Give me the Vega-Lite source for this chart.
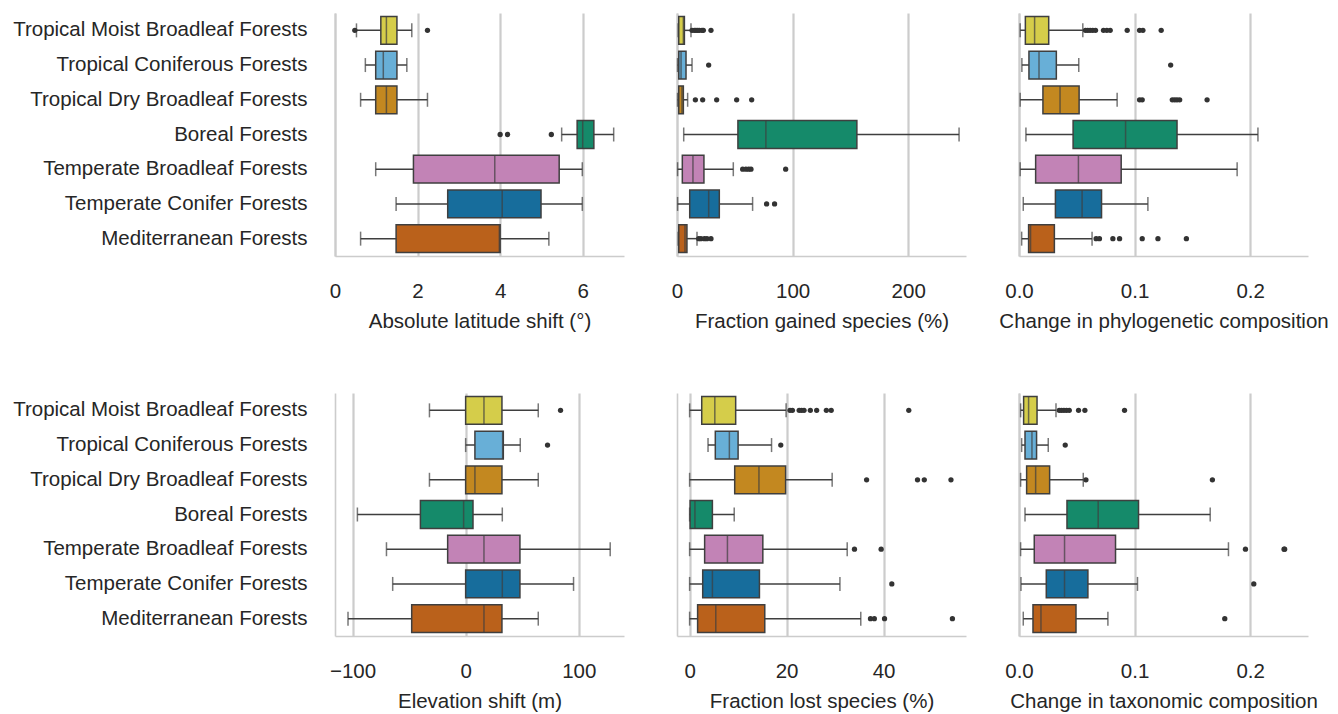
{
"$schema": "https://vega.github.io/schema/vega-lite/v6.json",
"padding": {"left": 12, "top": 13, "right": 5, "bottom": 5},
"background": "white",
"columns": 3,
"bounds": "flush",
"spacing": {"row": 137, "column": 53},
"resolve": {"scale": {"x": "independent", "y": "independent"}},
"config": {
  "font": "Liberation Sans",
  "view": {"stroke": null},
  "axis": {"labelFont": "Liberation Sans", "labelFontSize": 20.5, "labelColor": "#262626", "labelLimit": 500, "titleFont": "Liberation Sans", "titleFontSize": 20.5, "titleFontWeight": "normal", "titleColor": "#262626", "titleLimit": 600, "domainColor": "#cccccc", "domainWidth": 1.6, "ticks": false, "tickSize": 0, "gridColor": "#cccccc", "gridWidth": 2.2},
  "axisX": {"grid": true, "labelPadding": 25, "titlePadding": 10, "labelFlush": false},
  "axisY": {"grid": false, "labelPadding": 28}
},
"datasets": {
  "stats": [
    {"m": "lat", "forest": "Tropical Moist Broadleaf Forests", "wlo": 0.52, "q1": 1.11, "med": 1.245, "q3": 1.5, "whi": 1.86},
    {"m": "lat", "forest": "Tropical Coniferous Forests", "wlo": 0.735, "q1": 0.986, "med": 1.17, "q3": 1.5, "whi": 1.74},
    {"m": "lat", "forest": "Tropical Dry Broadleaf Forests", "wlo": 0.62, "q1": 0.986, "med": 1.245, "q3": 1.5, "whi": 2.24},
    {"m": "lat", "forest": "Boreal Forests", "wlo": 5.49, "q1": 5.865, "med": 6.0, "q3": 6.27, "whi": 6.75},
    {"m": "lat", "forest": "Temperate Broadleaf Forests", "wlo": 0.986, "q1": 1.9, "med": 3.87, "q3": 5.43, "whi": 5.99},
    {"m": "lat", "forest": "Temperate Conifer Forests", "wlo": 1.48, "q1": 2.73, "med": 4.05, "q3": 4.99, "whi": 5.99},
    {"m": "lat", "forest": "Mediterranean Forests", "wlo": 0.62, "q1": 1.48, "med": 3.98, "q3": 4.0, "whi": 5.18},

    {"m": "gain", "forest": "Tropical Moist Broadleaf Forests", "wlo": 1.0, "q1": 1.5, "med": 5.5, "q3": 6.4, "whi": 12.1},
    {"m": "gain", "forest": "Tropical Coniferous Forests", "wlo": 0.5, "q1": 1.5, "med": 3.5, "q3": 7.8, "whi": 13},
    {"m": "gain", "forest": "Tropical Dry Broadleaf Forests", "wlo": 0.5, "q1": 1.5, "med": 4.3, "q3": 5.5, "whi": 9.2},
    {"m": "gain", "forest": "Boreal Forests", "wlo": 5.8, "q1": 52.7, "med": 76.9, "q3": 155.6, "whi": 244},
    {"m": "gain", "forest": "Temperate Broadleaf Forests", "wlo": 0.5, "q1": 4.6, "med": 13.8, "q3": 23.3, "whi": 48.7},
    {"m": "gain", "forest": "Temperate Conifer Forests", "wlo": 0.5, "q1": 11, "med": 27.4, "q3": 36.6, "whi": 65.4},
    {"m": "gain", "forest": "Mediterranean Forests", "wlo": 1.0, "q1": 1.5, "med": 6.9, "q3": 8.6, "whi": 17.3},

    {"m": "phylo", "forest": "Tropical Moist Broadleaf Forests", "wlo": 0.001, "q1": 0.0055, "med": 0.0135, "q3": 0.0257, "whi": 0.0552},
    {"m": "phylo", "forest": "Tropical Coniferous Forests", "wlo": 0.0025, "q1": 0.0086, "med": 0.0173, "q3": 0.0323, "whi": 0.0517},
    {"m": "phylo", "forest": "Tropical Dry Broadleaf Forests", "wlo": 0.001, "q1": 0.0207, "med": 0.0355, "q3": 0.052, "whi": 0.0849},
    {"m": "phylo", "forest": "Boreal Forests", "wlo": 0.006, "q1": 0.0468, "med": 0.0922, "q3": 0.1367, "whi": 0.2067},
    {"m": "phylo", "forest": "Temperate Broadleaf Forests", "wlo": 0.001, "q1": 0.0144, "med": 0.0514, "q3": 0.0884, "whi": 0.1887},
    {"m": "phylo", "forest": "Temperate Conifer Forests", "wlo": 0.0037, "q1": 0.0315, "med": 0.0546, "q3": 0.0714, "whi": 0.1115},
    {"m": "phylo", "forest": "Mediterranean Forests", "wlo": 0.0023, "q1": 0.0083, "med": 0.01, "q3": 0.0306, "whi": 0.0632},

    {"m": "elev", "forest": "Tropical Moist Broadleaf Forests", "wlo": -32, "q1": 0, "med": 16.2, "q3": 32.1, "whi": 64.2},
    {"m": "elev", "forest": "Tropical Coniferous Forests", "wlo": 0, "q1": 8.2, "med": 32.7, "q3": 33.3, "whi": 48.3},
    {"m": "elev", "forest": "Tropical Dry Broadleaf Forests", "wlo": -32, "q1": 0, "med": 8.2, "q3": 32.1, "whi": 64.2},
    {"m": "elev", "forest": "Boreal Forests", "wlo": -95.7, "q1": -40, "med": -1.8, "q3": 6.5, "whi": 32.4},
    {"m": "elev", "forest": "Temperate Broadleaf Forests", "wlo": -70, "q1": -15.9, "med": 16.2, "q3": 48, "whi": 127.8},
    {"m": "elev", "forest": "Temperate Conifer Forests", "wlo": -64.5, "q1": 0, "med": 32.4, "q3": 48, "whi": 95.4},
    {"m": "elev", "forest": "Mediterranean Forests", "wlo": -104, "q1": -47.7, "med": 16.2, "q3": 32.1, "whi": 64.2},

    {"m": "lost", "forest": "Tropical Moist Broadleaf Forests", "wlo": 0, "q1": 2.5, "med": 5.2, "q3": 9.5, "whi": 19.9},
    {"m": "lost", "forest": "Tropical Coniferous Forests", "wlo": 3.8, "q1": 5.3, "med": 8.2, "q3": 10.0, "whi": 16.9},
    {"m": "lost", "forest": "Tropical Dry Broadleaf Forests", "wlo": 0, "q1": 9.3, "med": 14.3, "q3": 19.8, "whi": 29.4},
    {"m": "lost", "forest": "Boreal Forests", "wlo": 0, "q1": 0.1, "med": 1.1, "q3": 4.7, "whi": 9.2},
    {"m": "lost", "forest": "Temperate Broadleaf Forests", "wlo": 0, "q1": 3.1, "med": 7.8, "q3": 15.1, "whi": 32.5},
    {"m": "lost", "forest": "Temperate Conifer Forests", "wlo": 0, "q1": 2.7, "med": 4.7, "q3": 14.4, "whi": 31.0},
    {"m": "lost", "forest": "Mediterranean Forests", "wlo": 0, "q1": 1.65, "med": 5.4, "q3": 15.5, "whi": 35.3},

    {"m": "taxo", "forest": "Tropical Moist Broadleaf Forests", "wlo": 0.0014, "q1": 0.004, "med": 0.0083, "q3": 0.0156, "whi": 0.032},
    {"m": "taxo", "forest": "Tropical Coniferous Forests", "wlo": 0.0023, "q1": 0.0052, "med": 0.0112, "q3": 0.0152, "whi": 0.0253},
    {"m": "taxo", "forest": "Tropical Dry Broadleaf Forests", "wlo": 0.0014, "q1": 0.0066, "med": 0.0144, "q3": 0.0265, "whi": 0.0556},
    {"m": "taxo", "forest": "Boreal Forests", "wlo": 0.0052, "q1": 0.0415, "med": 0.0685, "q3": 0.1034, "whi": 0.1654},
    {"m": "taxo", "forest": "Temperate Broadleaf Forests", "wlo": 0.0014, "q1": 0.0132, "med": 0.0394, "q3": 0.0835, "whi": 0.1812},
    {"m": "taxo", "forest": "Temperate Conifer Forests", "wlo": 0.0017, "q1": 0.0236, "med": 0.0394, "q3": 0.0596, "whi": 0.1025},
    {"m": "taxo", "forest": "Mediterranean Forests", "wlo": 0.0037, "q1": 0.0121, "med": 0.019, "q3": 0.0493, "whi": 0.0769}
  ],
  "out": [
    {"m": "lat", "forest": "Tropical Moist Broadleaf Forests", "v": 0.48},
    {"m": "lat", "forest": "Tropical Moist Broadleaf Forests", "v": 2.24},
    {"m": "lat", "forest": "Boreal Forests", "v": 4.0},
    {"m": "lat", "forest": "Boreal Forests", "v": 4.18},
    {"m": "lat", "forest": "Boreal Forests", "v": 5.24},

    {"m": "gain", "forest": "Tropical Moist Broadleaf Forests", "v": 13},
    {"m": "gain", "forest": "Tropical Moist Broadleaf Forests", "v": 15},
    {"m": "gain", "forest": "Tropical Moist Broadleaf Forests", "v": 16.4},
    {"m": "gain", "forest": "Tropical Moist Broadleaf Forests", "v": 17.9},
    {"m": "gain", "forest": "Tropical Moist Broadleaf Forests", "v": 19.3},
    {"m": "gain", "forest": "Tropical Moist Broadleaf Forests", "v": 21.6},
    {"m": "gain", "forest": "Tropical Moist Broadleaf Forests", "v": 22.8},
    {"m": "gain", "forest": "Tropical Moist Broadleaf Forests", "v": 29.4},
    {"m": "gain", "forest": "Tropical Coniferous Forests", "v": 27.4},
    {"m": "gain", "forest": "Tropical Dry Broadleaf Forests", "v": 15.9},
    {"m": "gain", "forest": "Tropical Dry Broadleaf Forests", "v": 22.2},
    {"m": "gain", "forest": "Tropical Dry Broadleaf Forests", "v": 34.3},
    {"m": "gain", "forest": "Tropical Dry Broadleaf Forests", "v": 51.6},
    {"m": "gain", "forest": "Tropical Dry Broadleaf Forests", "v": 64.6},
    {"m": "gain", "forest": "Temperate Broadleaf Forests", "v": 56.8},
    {"m": "gain", "forest": "Temperate Broadleaf Forests", "v": 59.6},
    {"m": "gain", "forest": "Temperate Broadleaf Forests", "v": 62},
    {"m": "gain", "forest": "Temperate Broadleaf Forests", "v": 64},
    {"m": "gain", "forest": "Temperate Broadleaf Forests", "v": 94},
    {"m": "gain", "forest": "Temperate Conifer Forests", "v": 77.5},
    {"m": "gain", "forest": "Temperate Conifer Forests", "v": 84.4},
    {"m": "gain", "forest": "Mediterranean Forests", "v": 18.8},
    {"m": "gain", "forest": "Mediterranean Forests", "v": 20.7},
    {"m": "gain", "forest": "Mediterranean Forests", "v": 23.7},
    {"m": "gain", "forest": "Mediterranean Forests", "v": 25.9},
    {"m": "gain", "forest": "Mediterranean Forests", "v": 29.4},

    {"m": "phylo", "forest": "Tropical Moist Broadleaf Forests", "v": 0.0575},
    {"m": "phylo", "forest": "Tropical Moist Broadleaf Forests", "v": 0.0595},
    {"m": "phylo", "forest": "Tropical Moist Broadleaf Forests", "v": 0.0615},
    {"m": "phylo", "forest": "Tropical Moist Broadleaf Forests", "v": 0.0638},
    {"m": "phylo", "forest": "Tropical Moist Broadleaf Forests", "v": 0.0662},
    {"m": "phylo", "forest": "Tropical Moist Broadleaf Forests", "v": 0.0731},
    {"m": "phylo", "forest": "Tropical Moist Broadleaf Forests", "v": 0.076},
    {"m": "phylo", "forest": "Tropical Moist Broadleaf Forests", "v": 0.0789},
    {"m": "phylo", "forest": "Tropical Moist Broadleaf Forests", "v": 0.0936},
    {"m": "phylo", "forest": "Tropical Moist Broadleaf Forests", "v": 0.1043},
    {"m": "phylo", "forest": "Tropical Moist Broadleaf Forests", "v": 0.1072},
    {"m": "phylo", "forest": "Tropical Moist Broadleaf Forests", "v": 0.123},
    {"m": "phylo", "forest": "Tropical Coniferous Forests", "v": 0.1312},
    {"m": "phylo", "forest": "Tropical Dry Broadleaf Forests", "v": 0.1043},
    {"m": "phylo", "forest": "Tropical Dry Broadleaf Forests", "v": 0.1066},
    {"m": "phylo", "forest": "Tropical Dry Broadleaf Forests", "v": 0.1326},
    {"m": "phylo", "forest": "Tropical Dry Broadleaf Forests", "v": 0.1347},
    {"m": "phylo", "forest": "Tropical Dry Broadleaf Forests", "v": 0.1367},
    {"m": "phylo", "forest": "Tropical Dry Broadleaf Forests", "v": 0.139},
    {"m": "phylo", "forest": "Tropical Dry Broadleaf Forests", "v": 0.1627},
    {"m": "phylo", "forest": "Mediterranean Forests", "v": 0.0667},
    {"m": "phylo", "forest": "Mediterranean Forests", "v": 0.0696},
    {"m": "phylo", "forest": "Mediterranean Forests", "v": 0.0812},
    {"m": "phylo", "forest": "Mediterranean Forests", "v": 0.087},
    {"m": "phylo", "forest": "Mediterranean Forests", "v": 0.1066},
    {"m": "phylo", "forest": "Mediterranean Forests", "v": 0.1202},
    {"m": "phylo", "forest": "Mediterranean Forests", "v": 0.1448},

    {"m": "elev", "forest": "Tropical Moist Broadleaf Forests", "v": 83.9},
    {"m": "elev", "forest": "Tropical Coniferous Forests", "v": 72.4},

    {"m": "lost", "forest": "Tropical Moist Broadleaf Forests", "v": 20.7},
    {"m": "lost", "forest": "Tropical Moist Broadleaf Forests", "v": 21.2},
    {"m": "lost", "forest": "Tropical Moist Broadleaf Forests", "v": 22.6},
    {"m": "lost", "forest": "Tropical Moist Broadleaf Forests", "v": 23.1},
    {"m": "lost", "forest": "Tropical Moist Broadleaf Forests", "v": 23.6},
    {"m": "lost", "forest": "Tropical Moist Broadleaf Forests", "v": 24.9},
    {"m": "lost", "forest": "Tropical Moist Broadleaf Forests", "v": 26.2},
    {"m": "lost", "forest": "Tropical Moist Broadleaf Forests", "v": 28.2},
    {"m": "lost", "forest": "Tropical Moist Broadleaf Forests", "v": 29.2},
    {"m": "lost", "forest": "Tropical Moist Broadleaf Forests", "v": 45.2},
    {"m": "lost", "forest": "Tropical Coniferous Forests", "v": 18.8},
    {"m": "lost", "forest": "Tropical Dry Broadleaf Forests", "v": 36.5},
    {"m": "lost", "forest": "Tropical Dry Broadleaf Forests", "v": 47.0},
    {"m": "lost", "forest": "Tropical Dry Broadleaf Forests", "v": 48.4},
    {"m": "lost", "forest": "Tropical Dry Broadleaf Forests", "v": 53.9},
    {"m": "lost", "forest": "Temperate Broadleaf Forests", "v": 34.0},
    {"m": "lost", "forest": "Temperate Broadleaf Forests", "v": 39.5},
    {"m": "lost", "forest": "Temperate Conifer Forests", "v": 41.7},
    {"m": "lost", "forest": "Mediterranean Forests", "v": 37.3},
    {"m": "lost", "forest": "Mediterranean Forests", "v": 38.1},
    {"m": "lost", "forest": "Mediterranean Forests", "v": 40.2},
    {"m": "lost", "forest": "Mediterranean Forests", "v": 54.2},

    {"m": "taxo", "forest": "Tropical Moist Broadleaf Forests", "v": 0.0348},
    {"m": "taxo", "forest": "Tropical Moist Broadleaf Forests", "v": 0.0368},
    {"m": "taxo", "forest": "Tropical Moist Broadleaf Forests", "v": 0.0389},
    {"m": "taxo", "forest": "Tropical Moist Broadleaf Forests", "v": 0.0411},
    {"m": "taxo", "forest": "Tropical Moist Broadleaf Forests", "v": 0.0435},
    {"m": "taxo", "forest": "Tropical Moist Broadleaf Forests", "v": 0.0515},
    {"m": "taxo", "forest": "Tropical Moist Broadleaf Forests", "v": 0.057},
    {"m": "taxo", "forest": "Tropical Moist Broadleaf Forests", "v": 0.0913},
    {"m": "taxo", "forest": "Tropical Coniferous Forests", "v": 0.04},
    {"m": "taxo", "forest": "Tropical Dry Broadleaf Forests", "v": 0.0579},
    {"m": "taxo", "forest": "Tropical Dry Broadleaf Forests", "v": 0.1673},
    {"m": "taxo", "forest": "Temperate Broadleaf Forests", "v": 0.1959},
    {"m": "taxo", "forest": "Temperate Broadleaf Forests", "v": 0.2293},
    {"m": "taxo", "forest": "Temperate Broadleaf Forests", "v": 0.2298},
    {"m": "taxo", "forest": "Temperate Conifer Forests", "v": 0.2031},
    {"m": "taxo", "forest": "Mediterranean Forests", "v": 0.178}
  ]
},
"concat": [
  {
    "width": 289, "height": 243,
    "encoding": {"y": {"field": "forest", "type": "nominal", "title": null, "scale": {"domain": ["Tropical Moist Broadleaf Forests","Tropical Coniferous Forests","Tropical Dry Broadleaf Forests","Boreal Forests","Temperate Broadleaf Forests","Temperate Conifer Forests","Mediterranean Forests"], "paddingInner": 0, "paddingOuter": 0}, "axis": {"labels": true}}},
    "layer": [
      {"data": {"name": "stats"}, "transform": [{"filter": "datum.m === 'lat'"}], "mark": {"type": "rule", "color": "#3f3f3f", "strokeWidth": 1.5}, "encoding": {"x": {"field": "wlo", "type": "quantitative", "title": "Absolute latitude shift (°)", "scale": {"domain": [0, 7], "nice": false, "zero": false}, "axis": {"values": [0, 2, 4, 6], "format": "d"}}, "x2": {"field": "whi"}}},
      {"data": {"name": "stats"}, "transform": [{"filter": "datum.m === 'lat'"}], "mark": {"type": "bar", "height": {"band": 0.8}, "stroke": "#3f3f3f", "strokeWidth": 1.5}, "encoding": {"x": {"field": "q1", "type": "quantitative", "title": "Absolute latitude shift (°)"}, "x2": {"field": "q3"}, "color": {"field": "forest", "type": "nominal", "scale": {"domain": ["Tropical Moist Broadleaf Forests","Tropical Coniferous Forests","Tropical Dry Broadleaf Forests","Boreal Forests","Temperate Broadleaf Forests","Temperate Conifer Forests","Mediterranean Forests"], "range": ["#d5cd4a","#68afd7","#c38820","#158a6a","#c283b6","#176d9c","#ba611b"]}, "legend": null}}},
      {"data": {"name": "stats"}, "transform": [{"filter": "datum.m === 'lat'"}], "mark": {"type": "tick", "color": "#3f3f3f", "size": 14, "thickness": 1.5}, "encoding": {"x": {"field": "wlo", "type": "quantitative", "title": "Absolute latitude shift (°)"}}},
      {"data": {"name": "stats"}, "transform": [{"filter": "datum.m === 'lat'"}], "mark": {"type": "tick", "color": "#3f3f3f", "size": 14, "thickness": 1.5}, "encoding": {"x": {"field": "whi", "type": "quantitative", "title": "Absolute latitude shift (°)"}}},
      {"data": {"name": "stats"}, "transform": [{"filter": "datum.m === 'lat'"}], "mark": {"type": "tick", "color": "#3f3f3f", "size": 27.7, "thickness": 1.5}, "encoding": {"x": {"field": "med", "type": "quantitative", "title": "Absolute latitude shift (°)"}}},
      {"data": {"name": "out"}, "transform": [{"filter": "datum.m === 'lat'"}], "mark": {"type": "circle", "size": 28, "color": "#333333", "opacity": 1}, "encoding": {"x": {"field": "v", "type": "quantitative", "title": "Absolute latitude shift (°)"}}}
    ]
  },
  {
    "width": 289, "height": 243,
    "encoding": {"y": {"field": "forest", "type": "nominal", "title": null, "scale": {"domain": ["Tropical Moist Broadleaf Forests","Tropical Coniferous Forests","Tropical Dry Broadleaf Forests","Boreal Forests","Temperate Broadleaf Forests","Temperate Conifer Forests","Mediterranean Forests"], "paddingInner": 0, "paddingOuter": 0}, "axis": {"labels": false}}},
    "layer": [
      {"data": {"name": "stats"}, "transform": [{"filter": "datum.m === 'gain'"}], "mark": {"type": "rule", "color": "#3f3f3f", "strokeWidth": 1.5}, "encoding": {"x": {"field": "wlo", "type": "quantitative", "title": "Fraction gained species (%)", "scale": {"domain": [0, 250], "nice": false, "zero": false}, "axis": {"values": [0, 100, 200], "format": "d"}}, "x2": {"field": "whi"}}},
      {"data": {"name": "stats"}, "transform": [{"filter": "datum.m === 'gain'"}], "mark": {"type": "bar", "height": {"band": 0.8}, "stroke": "#3f3f3f", "strokeWidth": 1.5}, "encoding": {"x": {"field": "q1", "type": "quantitative", "title": "Fraction gained species (%)"}, "x2": {"field": "q3"}, "color": {"field": "forest", "type": "nominal", "scale": {"domain": ["Tropical Moist Broadleaf Forests","Tropical Coniferous Forests","Tropical Dry Broadleaf Forests","Boreal Forests","Temperate Broadleaf Forests","Temperate Conifer Forests","Mediterranean Forests"], "range": ["#d5cd4a","#68afd7","#c38820","#158a6a","#c283b6","#176d9c","#ba611b"]}, "legend": null}}},
      {"data": {"name": "stats"}, "transform": [{"filter": "datum.m === 'gain'"}], "mark": {"type": "tick", "color": "#3f3f3f", "size": 14, "thickness": 1.5}, "encoding": {"x": {"field": "wlo", "type": "quantitative", "title": "Fraction gained species (%)"}}},
      {"data": {"name": "stats"}, "transform": [{"filter": "datum.m === 'gain'"}], "mark": {"type": "tick", "color": "#3f3f3f", "size": 14, "thickness": 1.5}, "encoding": {"x": {"field": "whi", "type": "quantitative", "title": "Fraction gained species (%)"}}},
      {"data": {"name": "stats"}, "transform": [{"filter": "datum.m === 'gain'"}], "mark": {"type": "tick", "color": "#3f3f3f", "size": 27.7, "thickness": 1.5}, "encoding": {"x": {"field": "med", "type": "quantitative", "title": "Fraction gained species (%)"}}},
      {"data": {"name": "out"}, "transform": [{"filter": "datum.m === 'gain'"}], "mark": {"type": "circle", "size": 28, "color": "#333333", "opacity": 1}, "encoding": {"x": {"field": "v", "type": "quantitative", "title": "Fraction gained species (%)"}}}
    ]
  },
  {
    "width": 289, "height": 243,
    "encoding": {"y": {"field": "forest", "type": "nominal", "title": null, "scale": {"domain": ["Tropical Moist Broadleaf Forests","Tropical Coniferous Forests","Tropical Dry Broadleaf Forests","Boreal Forests","Temperate Broadleaf Forests","Temperate Conifer Forests","Mediterranean Forests"], "paddingInner": 0, "paddingOuter": 0}, "axis": {"labels": false}}},
    "layer": [
      {"data": {"name": "stats"}, "transform": [{"filter": "datum.m === 'phylo'"}], "mark": {"type": "rule", "color": "#3f3f3f", "strokeWidth": 1.5}, "encoding": {"x": {"field": "wlo", "type": "quantitative", "title": "Change in phylogenetic composition", "scale": {"domain": [0, 0.25], "nice": false, "zero": false}, "axis": {"values": [0, 0.1, 0.2], "format": ".1f"}}, "x2": {"field": "whi"}}},
      {"data": {"name": "stats"}, "transform": [{"filter": "datum.m === 'phylo'"}], "mark": {"type": "bar", "height": {"band": 0.8}, "stroke": "#3f3f3f", "strokeWidth": 1.5}, "encoding": {"x": {"field": "q1", "type": "quantitative", "title": "Change in phylogenetic composition"}, "x2": {"field": "q3"}, "color": {"field": "forest", "type": "nominal", "scale": {"domain": ["Tropical Moist Broadleaf Forests","Tropical Coniferous Forests","Tropical Dry Broadleaf Forests","Boreal Forests","Temperate Broadleaf Forests","Temperate Conifer Forests","Mediterranean Forests"], "range": ["#d5cd4a","#68afd7","#c38820","#158a6a","#c283b6","#176d9c","#ba611b"]}, "legend": null}}},
      {"data": {"name": "stats"}, "transform": [{"filter": "datum.m === 'phylo'"}], "mark": {"type": "tick", "color": "#3f3f3f", "size": 14, "thickness": 1.5}, "encoding": {"x": {"field": "wlo", "type": "quantitative", "title": "Change in phylogenetic composition"}}},
      {"data": {"name": "stats"}, "transform": [{"filter": "datum.m === 'phylo'"}], "mark": {"type": "tick", "color": "#3f3f3f", "size": 14, "thickness": 1.5}, "encoding": {"x": {"field": "whi", "type": "quantitative", "title": "Change in phylogenetic composition"}}},
      {"data": {"name": "stats"}, "transform": [{"filter": "datum.m === 'phylo'"}], "mark": {"type": "tick", "color": "#3f3f3f", "size": 27.7, "thickness": 1.5}, "encoding": {"x": {"field": "med", "type": "quantitative", "title": "Change in phylogenetic composition"}}},
      {"data": {"name": "out"}, "transform": [{"filter": "datum.m === 'phylo'"}], "mark": {"type": "circle", "size": 28, "color": "#333333", "opacity": 1}, "encoding": {"x": {"field": "v", "type": "quantitative", "title": "Change in phylogenetic composition"}}}
    ]
  },
  {
    "width": 289, "height": 243,
    "encoding": {"y": {"field": "forest", "type": "nominal", "title": null, "scale": {"domain": ["Tropical Moist Broadleaf Forests","Tropical Coniferous Forests","Tropical Dry Broadleaf Forests","Boreal Forests","Temperate Broadleaf Forests","Temperate Conifer Forests","Mediterranean Forests"], "paddingInner": 0, "paddingOuter": 0}, "axis": {"labels": true}}},
    "layer": [
      {"data": {"name": "stats"}, "transform": [{"filter": "datum.m === 'elev'"}], "mark": {"type": "rule", "color": "#3f3f3f", "strokeWidth": 1.5}, "encoding": {"x": {"field": "wlo", "type": "quantitative", "title": "Elevation shift (m)", "scale": {"domain": [-115.5, 140], "nice": false, "zero": false}, "axis": {"values": [-100, 0, 100], "format": "d"}}, "x2": {"field": "whi"}}},
      {"data": {"name": "stats"}, "transform": [{"filter": "datum.m === 'elev'"}], "mark": {"type": "bar", "height": {"band": 0.8}, "stroke": "#3f3f3f", "strokeWidth": 1.5}, "encoding": {"x": {"field": "q1", "type": "quantitative", "title": "Elevation shift (m)"}, "x2": {"field": "q3"}, "color": {"field": "forest", "type": "nominal", "scale": {"domain": ["Tropical Moist Broadleaf Forests","Tropical Coniferous Forests","Tropical Dry Broadleaf Forests","Boreal Forests","Temperate Broadleaf Forests","Temperate Conifer Forests","Mediterranean Forests"], "range": ["#d5cd4a","#68afd7","#c38820","#158a6a","#c283b6","#176d9c","#ba611b"]}, "legend": null}}},
      {"data": {"name": "stats"}, "transform": [{"filter": "datum.m === 'elev'"}], "mark": {"type": "tick", "color": "#3f3f3f", "size": 14, "thickness": 1.5}, "encoding": {"x": {"field": "wlo", "type": "quantitative", "title": "Elevation shift (m)"}}},
      {"data": {"name": "stats"}, "transform": [{"filter": "datum.m === 'elev'"}], "mark": {"type": "tick", "color": "#3f3f3f", "size": 14, "thickness": 1.5}, "encoding": {"x": {"field": "whi", "type": "quantitative", "title": "Elevation shift (m)"}}},
      {"data": {"name": "stats"}, "transform": [{"filter": "datum.m === 'elev'"}], "mark": {"type": "tick", "color": "#3f3f3f", "size": 27.7, "thickness": 1.5}, "encoding": {"x": {"field": "med", "type": "quantitative", "title": "Elevation shift (m)"}}},
      {"data": {"name": "out"}, "transform": [{"filter": "datum.m === 'elev'"}], "mark": {"type": "circle", "size": 28, "color": "#333333", "opacity": 1}, "encoding": {"x": {"field": "v", "type": "quantitative", "title": "Elevation shift (m)"}}}
    ]
  },
  {
    "width": 289, "height": 243,
    "encoding": {"y": {"field": "forest", "type": "nominal", "title": null, "scale": {"domain": ["Tropical Moist Broadleaf Forests","Tropical Coniferous Forests","Tropical Dry Broadleaf Forests","Boreal Forests","Temperate Broadleaf Forests","Temperate Conifer Forests","Mediterranean Forests"], "paddingInner": 0, "paddingOuter": 0}, "axis": {"labels": false}}},
    "layer": [
      {"data": {"name": "stats"}, "transform": [{"filter": "datum.m === 'lost'"}], "mark": {"type": "rule", "color": "#3f3f3f", "strokeWidth": 1.5}, "encoding": {"x": {"field": "wlo", "type": "quantitative", "title": "Fraction lost species (%)", "scale": {"domain": [-2.6, 57], "nice": false, "zero": false}, "axis": {"values": [0, 20, 40], "format": "d"}}, "x2": {"field": "whi"}}},
      {"data": {"name": "stats"}, "transform": [{"filter": "datum.m === 'lost'"}], "mark": {"type": "bar", "height": {"band": 0.8}, "stroke": "#3f3f3f", "strokeWidth": 1.5}, "encoding": {"x": {"field": "q1", "type": "quantitative", "title": "Fraction lost species (%)"}, "x2": {"field": "q3"}, "color": {"field": "forest", "type": "nominal", "scale": {"domain": ["Tropical Moist Broadleaf Forests","Tropical Coniferous Forests","Tropical Dry Broadleaf Forests","Boreal Forests","Temperate Broadleaf Forests","Temperate Conifer Forests","Mediterranean Forests"], "range": ["#d5cd4a","#68afd7","#c38820","#158a6a","#c283b6","#176d9c","#ba611b"]}, "legend": null}}},
      {"data": {"name": "stats"}, "transform": [{"filter": "datum.m === 'lost'"}], "mark": {"type": "tick", "color": "#3f3f3f", "size": 14, "thickness": 1.5}, "encoding": {"x": {"field": "wlo", "type": "quantitative", "title": "Fraction lost species (%)"}}},
      {"data": {"name": "stats"}, "transform": [{"filter": "datum.m === 'lost'"}], "mark": {"type": "tick", "color": "#3f3f3f", "size": 14, "thickness": 1.5}, "encoding": {"x": {"field": "whi", "type": "quantitative", "title": "Fraction lost species (%)"}}},
      {"data": {"name": "stats"}, "transform": [{"filter": "datum.m === 'lost'"}], "mark": {"type": "tick", "color": "#3f3f3f", "size": 27.7, "thickness": 1.5}, "encoding": {"x": {"field": "med", "type": "quantitative", "title": "Fraction lost species (%)"}}},
      {"data": {"name": "out"}, "transform": [{"filter": "datum.m === 'lost'"}], "mark": {"type": "circle", "size": 28, "color": "#333333", "opacity": 1}, "encoding": {"x": {"field": "v", "type": "quantitative", "title": "Fraction lost species (%)"}}}
    ]
  },
  {
    "width": 289, "height": 243,
    "encoding": {"y": {"field": "forest", "type": "nominal", "title": null, "scale": {"domain": ["Tropical Moist Broadleaf Forests","Tropical Coniferous Forests","Tropical Dry Broadleaf Forests","Boreal Forests","Temperate Broadleaf Forests","Temperate Conifer Forests","Mediterranean Forests"], "paddingInner": 0, "paddingOuter": 0}, "axis": {"labels": false}}},
    "layer": [
      {"data": {"name": "stats"}, "transform": [{"filter": "datum.m === 'taxo'"}], "mark": {"type": "rule", "color": "#3f3f3f", "strokeWidth": 1.5}, "encoding": {"x": {"field": "wlo", "type": "quantitative", "title": "Change in taxonomic composition", "scale": {"domain": [0, 0.25], "nice": false, "zero": false}, "axis": {"values": [0, 0.1, 0.2], "format": ".1f"}}, "x2": {"field": "whi"}}},
      {"data": {"name": "stats"}, "transform": [{"filter": "datum.m === 'taxo'"}], "mark": {"type": "bar", "height": {"band": 0.8}, "stroke": "#3f3f3f", "strokeWidth": 1.5}, "encoding": {"x": {"field": "q1", "type": "quantitative", "title": "Change in taxonomic composition"}, "x2": {"field": "q3"}, "color": {"field": "forest", "type": "nominal", "scale": {"domain": ["Tropical Moist Broadleaf Forests","Tropical Coniferous Forests","Tropical Dry Broadleaf Forests","Boreal Forests","Temperate Broadleaf Forests","Temperate Conifer Forests","Mediterranean Forests"], "range": ["#d5cd4a","#68afd7","#c38820","#158a6a","#c283b6","#176d9c","#ba611b"]}, "legend": null}}},
      {"data": {"name": "stats"}, "transform": [{"filter": "datum.m === 'taxo'"}], "mark": {"type": "tick", "color": "#3f3f3f", "size": 14, "thickness": 1.5}, "encoding": {"x": {"field": "wlo", "type": "quantitative", "title": "Change in taxonomic composition"}}},
      {"data": {"name": "stats"}, "transform": [{"filter": "datum.m === 'taxo'"}], "mark": {"type": "tick", "color": "#3f3f3f", "size": 14, "thickness": 1.5}, "encoding": {"x": {"field": "whi", "type": "quantitative", "title": "Change in taxonomic composition"}}},
      {"data": {"name": "stats"}, "transform": [{"filter": "datum.m === 'taxo'"}], "mark": {"type": "tick", "color": "#3f3f3f", "size": 27.7, "thickness": 1.5}, "encoding": {"x": {"field": "med", "type": "quantitative", "title": "Change in taxonomic composition"}}},
      {"data": {"name": "out"}, "transform": [{"filter": "datum.m === 'taxo'"}], "mark": {"type": "circle", "size": 28, "color": "#333333", "opacity": 1}, "encoding": {"x": {"field": "v", "type": "quantitative", "title": "Change in taxonomic composition"}}}
    ]
  }
]
}
